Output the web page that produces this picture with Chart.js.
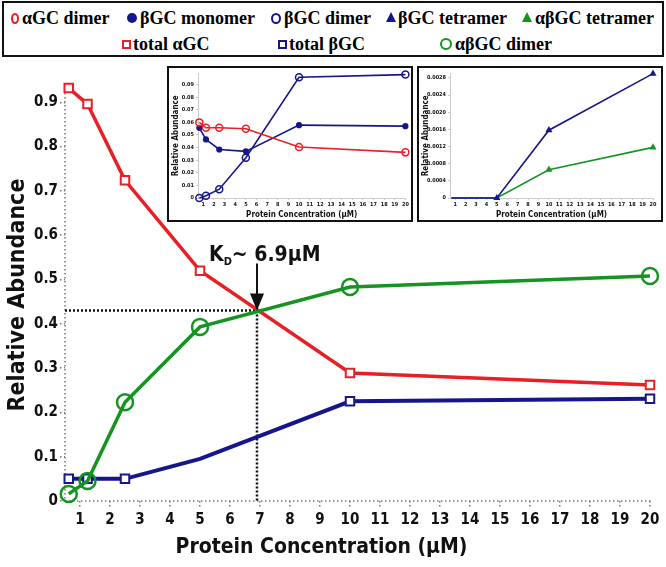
<!DOCTYPE html>
<html>
<head>
<meta charset="utf-8">
<script src="https://cdn.jsdelivr.net/npm/chart.js@4.4.1/dist/chart.umd.min.js"></script>
<style>
  body { margin: 0; background: #fff; }
  #wrap { position: relative; width: 666px; height: 567px; overflow: hidden; }
  #mainChart { position: absolute; left: 0; top: 0; }
  .inset { position: absolute; border: 2px solid #111; background: #fff; width: 242px; height: 152px; }
  .inset canvas { display: block; }
  #legend { position: absolute; left: 2px; top: 1px; width: 658px; height: 52px; border: 2px solid #111; background: #fff; }
  .item { position: absolute; font: bold 18px "Liberation Serif", "Times New Roman", serif; color: #000; white-space: nowrap; line-height: 20px; }
  .mk { position: absolute; box-sizing: border-box; }
</style>
</head>
<body>
<div id="wrap">
  <canvas id="mainChart" width="666" height="567"></canvas>
  <div class="inset" style="left:167px; top:66px;"><canvas id="insetA" width="242" height="152"></canvas></div>
  <div class="inset" style="left:417px; top:66px;"><canvas id="insetB" width="242" height="152"></canvas></div>
  <div id="legend"></div>
</div>
<script>
// concentrations (µM)
const concentration = [0.625, 1.25, 2.5, 5, 10, 20];

// main panel
const totalAlphaGC = [0.932, 0.896, 0.724, 0.52, 0.289, 0.262];
const totalBetaGC = [0.05, 0.05, 0.05, 0.095, 0.225, 0.231];
const alphaBetaGCDimer = [0.016, 0.045, 0.223, 0.393, 0.483, 0.508];
const xTickValues = [1, 2, 3, 4, 5, 6, 7, 8, 9, 10, 11, 12, 13, 14, 15, 16, 17, 18, 19, 20];
const yTickValues = [0, 0.1, 0.2, 0.3, 0.4, 0.5, 0.6, 0.7, 0.8, 0.9];
const kdConcentration = 6.9;
const kdAbundance = 0.43;

// left inset
const alphaGCDimer = [0.060, 0.0557, 0.0557, 0.055, 0.0405, 0.0362];
const betaGCMonomer = [0.0557, 0.0465, 0.0385, 0.037, 0.0578, 0.057];
const betaGCDimer = [0, 0.0018, 0.007, 0.032, 0.0958, 0.0979];
const insetATicks = [0, 0.01, 0.02, 0.03, 0.04, 0.05, 0.06, 0.07, 0.08, 0.09];

// right inset
const betaGCTetramer = [0, 0, 0, 0, 0.00158, 0.0029];
const alphaBetaGCTetramer = [0, 0, 0, 0, 0.00066, 0.00118];
const insetBTicks = [0, 0.0004, 0.0008, 0.0012, 0.0016, 0.0020, 0.0024, 0.0028];

// legend
const legendLabels = ['αGC dimer', 'βGC monomer', 'βGC dimer', 'βGC tetramer', 'αβGC tetramer', 'total αGC', 'total βGC', 'αβGC dimer'];

const RED = 'rgb(232,32,38)';
const NAVY = 'rgb(22,22,140)';
const GREEN = 'rgb(22,148,34)';
const SANS = "'DejaVu Sans Condensed', 'DejaVu Sans', sans-serif";

const legendMarkers = ['ring', 'dot', 'ring', 'tri', 'tri', 'box', 'box', 'ring'];
const legendColors = [RED, NAVY, NAVY, NAVY, GREEN, RED, NAVY, GREEN];

// marker centre x, text left x, row centre y
const legendSlots = [[13, 20, 17], [130, 138, 17], [274, 282, 17], [389, 396, 17], [525, 533, 17],
                     [124, 131, 43], [280, 287, 43], [444, 453, 43]];

const legend = document.getElementById('legend');
legendLabels.forEach((label, i) => {
  const [mx, tx, cy] = legendSlots[i];
  const col = legendColors[i];
  const m = document.createElement('div');
  m.className = 'mk';
  let w = 9, h = 9;
  if (legendMarkers[i] === 'ring') {
    w = (i === 0) ? 8 : 10; h = 11;
    m.style.border = '2.5px solid ' + col; m.style.borderRadius = '50%';
    if (i === 7) { w = 12; h = 12; }
  } else if (legendMarkers[i] === 'dot') {
    w = 10; h = 10; m.style.background = col; m.style.borderRadius = '50%';
  } else if (legendMarkers[i] === 'box') {
    w = 9; h = 9; m.style.border = '2px solid ' + col;
  } else {
    w = 0; h = 0;
    m.style.borderLeft = '5px solid transparent';
    m.style.borderRight = '5px solid transparent';
    m.style.borderBottom = '10px solid ' + col;
    m.style.left = (mx - 5 - 2) + 'px'; m.style.top = (cy - 6 - 2) + 'px';
  }
  if (w) {
    m.style.width = w + 'px'; m.style.height = h + 'px';
    m.style.left = (mx - w / 2 - 2) + 'px'; m.style.top = (cy - h / 2 - 2) + 'px';
  }
  legend.appendChild(m);
  const t = document.createElement('div');
  t.className = 'item';
  t.textContent = label;
  t.style.left = (tx - 2) + 'px';
  t.style.top = (cy - 10 - 2) + 'px';
  legend.appendChild(t);
});

const pts = ys => concentration.map((c, i) => ({x: c, y: ys[i]}));

// dotted axes, K_D lines, arrow and label, plus the x title (sits left of centre in the original)
const kdPlugin = {
  id: 'kd',
  beforeDatasetsDraw(chart) {
    const {ctx, scales: {x, y}, chartArea} = chart;
    const px = x.getPixelForValue(kdConcentration);
    const py = y.getPixelForValue(kdAbundance);
    ctx.save();
    // dotted axis lines
    ctx.strokeStyle = '#777';
    ctx.lineWidth = 1.5;
    ctx.setLineDash([1.5, 2.5]);
    ctx.beginPath();
    ctx.moveTo(chartArea.left, chartArea.top); ctx.lineTo(chartArea.left, chartArea.bottom);
    ctx.lineTo(chartArea.right + 2, chartArea.bottom);
    ctx.stroke();
    // K_D guide lines
    ctx.strokeStyle = '#111';
    ctx.lineWidth = 2.5;
    ctx.setLineDash([2, 2]);
    ctx.beginPath();
    ctx.moveTo(chartArea.left, py); ctx.lineTo(px, py);
    ctx.moveTo(px, py); ctx.lineTo(px, y.getPixelForValue(0));
    ctx.stroke();
    ctx.restore();
  },
  afterDatasetsDraw(chart) {
    const {ctx, scales: {x, y}} = chart;
    const px = x.getPixelForValue(kdConcentration);
    const py = y.getPixelForValue(kdAbundance);
    ctx.save();
    ctx.fillStyle = '#111';
    ctx.strokeStyle = '#111';
    ctx.lineWidth = 2;
    ctx.beginPath();
    ctx.moveTo(px, py - 47); ctx.lineTo(px, py - 14);
    ctx.stroke();
    ctx.beginPath();
    ctx.moveTo(px - 7, py - 17); ctx.lineTo(px + 7, py - 17); ctx.lineTo(px, py);
    ctx.closePath(); ctx.fill();
    ctx.textBaseline = 'alphabetic';
    ctx.font = 'bold 21px ' + SANS;
    let tx = px - 48;
    const base = py - 50;
    ctx.fillText('K', tx, base);
    tx += ctx.measureText('K').width;
    ctx.font = 'bold 11px ' + SANS;
    ctx.fillText('D', tx, base + 4);
    tx += ctx.measureText('D').width;
    ctx.font = 'bold 21px ' + SANS;
    ctx.fillText('~ 6.9µM', tx, base);
    // x axis title
    ctx.textAlign = 'center';
    ctx.textBaseline = 'middle';
    ctx.fillText('Protein Concentration (µM)', x.getPixelForValue(9.05), 548);
    ctx.restore();
  }
};

const fmt = digits => v => (v === 0 ? '0' : v.toFixed(digits));

function makeAxis(opts) {
  return {
    type: 'linear',
    min: opts.min, max: opts.max,
    afterBuildTicks: s => { s.ticks = opts.ticks.map(v => ({value: v})); },
    afterFit: opts.fit,
    border: {display: opts.showBorder, color: opts.axisColor, width: opts.axisWidth},
    grid: {drawOnChartArea: false, drawTicks: true, tickLength: opts.tickLength, color: opts.axisColor,
           lineWidth: opts.axisWidth, tickBorderDash: opts.dash},
    ticks: {color: '#111', padding: opts.tickPad, font: {family: SANS, weight: 'bold', size: opts.tickSize},
            callback: opts.format, maxRotation: 0, autoSkip: false},
    title: {display: !!opts.title, text: opts.title, color: '#111', padding: opts.titlePad,
            font: {family: SANS, weight: 'bold', size: opts.titleSize}}
  };
}

new Chart(document.getElementById('mainChart'), {
  type: 'line',
  data: {
    datasets: [
      {label: 'αβGC dimer', data: pts(alphaBetaGCDimer), borderColor: GREEN, borderWidth: 3.5,
       pointStyle: 'circle', pointRadius: 8, pointBorderWidth: 2.5, pointBackgroundColor: 'rgba(255,255,255,0)',
       pointBorderColor: GREEN, clip: false},
      {label: 'total αGC', data: pts(totalAlphaGC), borderColor: RED, borderWidth: 3.5,
       pointStyle: 'rect', pointRadius: 6, pointBorderWidth: 2, pointBackgroundColor: '#fff',
       pointBorderColor: RED, clip: false},
      {label: 'total βGC', data: pts(totalBetaGC), borderColor: NAVY, borderWidth: 4,
       pointStyle: 'rect', pointRadius: [6, 6, 6, 0, 6, 6], pointBorderWidth: 2, pointBackgroundColor: '#fff',
       pointBorderColor: NAVY, clip: false}
    ]
  },
  options: {
    responsive: false, animation: false, devicePixelRatio: 1,
    layout: {padding: {top: 89, right: 16, left: 0, bottom: 0}},
    plugins: {legend: {display: false}, tooltip: {enabled: false}},
    scales: {
      x: makeAxis({min: 0.5, max: 20, ticks: xTickValues, fit: s => { s.height = 66; }, showBorder: false,
        axisColor: '#777', axisWidth: 1.5, dash: [1.5, 2.5], tickLength: 7, tickPad: 3, tickSize: 15,
        format: v => String(v), title: '', titleSize: 21, titlePad: 0}),
      y: makeAxis({min: 0, max: 0.93, ticks: yTickValues, fit: s => { s.width = 65; }, showBorder: false,
        axisColor: '#777', axisWidth: 1.5, dash: [1.5, 2.5], tickLength: 5, tickPad: 2, tickSize: 15,
        format: fmt(1), title: 'Relative Abundance', titleSize: 23, titlePad: {top: 4, bottom: 2}})
    }
  },
  plugins: [kdPlugin]
});

function insetChart(id, datasets, yMax, yTicks, yDigits, yWidth, padRight) {
  return new Chart(document.getElementById(id), {
    type: 'line',
    data: {datasets},
    options: {
      responsive: false, animation: false, devicePixelRatio: 1,
      layout: {padding: {top: 5, right: padRight, left: 0, bottom: 0}},
      plugins: {legend: {display: false}, tooltip: {enabled: false}},
      scales: {
        x: makeAxis({min: 0.5, max: 20, ticks: xTickValues, fit: s => { s.height = 22; }, showBorder: true,
          axisColor: '#ccc', axisWidth: 1, dash: [], tickLength: 2, tickPad: 1, tickSize: 5.5,
          format: v => String(v), title: 'Protein Concentration (µM)', titleSize: 8, titlePad: {top: 0, bottom: 0}}),
        y: makeAxis({min: 0, max: yMax, ticks: yTicks, fit: s => { s.width = yWidth; }, showBorder: true,
          axisColor: '#ccc', axisWidth: 1, dash: [], tickLength: 2, tickPad: 2, tickSize: 5.5,
          format: fmt(yDigits), title: 'Relative Abundance', titleSize: 8, titlePad: {top: 2, bottom: 1}})
      }
    }
  });
}

insetChart('insetA', [
  {data: pts(alphaGCDimer), borderColor: RED, borderWidth: 1.6, pointRadius: 3.5, pointBorderWidth: 1.5,
   pointBackgroundColor: 'rgba(255,255,255,0)', pointBorderColor: RED, clip: false},
  {data: pts(betaGCMonomer), borderColor: NAVY, borderWidth: 1.6, pointRadius: 2.3,
   pointBackgroundColor: NAVY, pointBorderColor: NAVY, clip: false},
  {data: pts(betaGCDimer), borderColor: NAVY, borderWidth: 1.6, pointRadius: 3.5, pointBorderWidth: 1.5,
   pointBackgroundColor: 'rgba(255,255,255,0)', pointBorderColor: NAVY, clip: false}
], 0.0987, insetATicks, 2, 29, 5);

insetChart('insetB', [
  {data: pts(betaGCTetramer), borderColor: NAVY, borderWidth: 1.6, pointStyle: 'triangle',
   pointRadius: [0, 0, 0, 2.5, 2.5, 2.5], pointBackgroundColor: NAVY, pointBorderColor: NAVY, clip: false},
  {data: pts(alphaBetaGCTetramer), borderColor: GREEN, borderWidth: 1.6, pointStyle: 'triangle',
   pointRadius: [0, 0, 0, 0, 2.5, 2.5], pointBackgroundColor: GREEN, pointBorderColor: GREEN, clip: false}
], 0.0029, insetBTicks, 4, 31, 8);
</script>
</body>
</html>
